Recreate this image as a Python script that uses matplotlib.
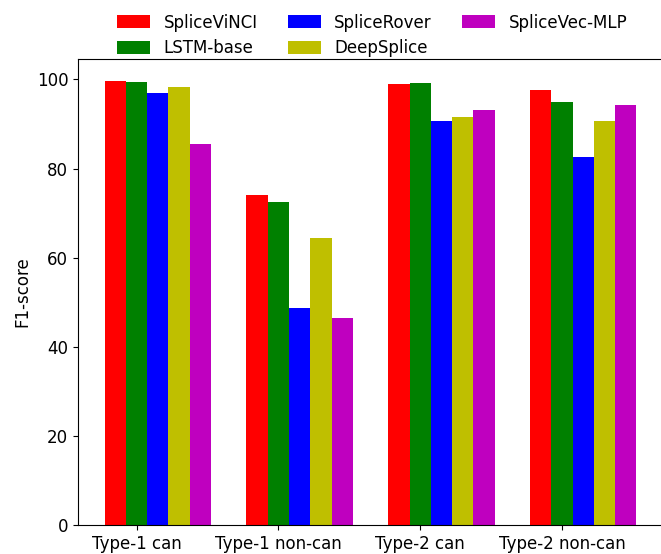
import matplotlib
matplotlib.use("Agg")
import matplotlib.pyplot as plt
import numpy as np

categories = ["Type-1 can", "Type-1 non-can", "Type-2 can", "Type-2 non-can"]
methods = ["SpliceViNCI", "LSTM-base", "SpliceRover", "DeepSplice", "SpliceVec-MLP"]
colors = ["r", "g", "b", "y", "m"]

splicevinci = [99.6, 74.1, 98.9, 97.6]
lstm_base = [99.4, 72.5, 99.2, 94.9]
splicerover = [96.9, 48.8, 90.6, 82.6]
deepsplice = [98.3, 64.4, 91.5, 90.6]
splicevec_mlp = [85.5, 46.5, 93.1, 94.2]
series = [splicevinci, lstm_base, splicerover, deepsplice, splicevec_mlp]

W, H = 661, 554
fig = plt.figure(figsize=(W / 100, H / 100), dpi=100)
ax = fig.add_axes([78 / W, (H - 525) / H, (663 - 78) / W, (525 - 59) / H])

x = np.arange(len(categories))
width = 0.15
for i, (vals, name, c) in enumerate(zip(series, methods, colors)):
    ax.bar(x + (i - 1) * width, vals, width, color=c, label=name)

ax.set_xticks(x)
ax.set_xticklabels(categories, fontsize=12)
ax.tick_params(axis="y", labelsize=12)
ax.set_ylabel("F1-score", fontsize=12)

fig.legend(loc="upper center", bbox_to_anchor=(372 / W, 1.0 + 1.5 / H), ncol=3,
           frameon=False, fontsize=12, columnspacing=1.8, labelspacing=0.45,
           handleheight=0.8)

fig.savefig("out.png", dpi=100)
